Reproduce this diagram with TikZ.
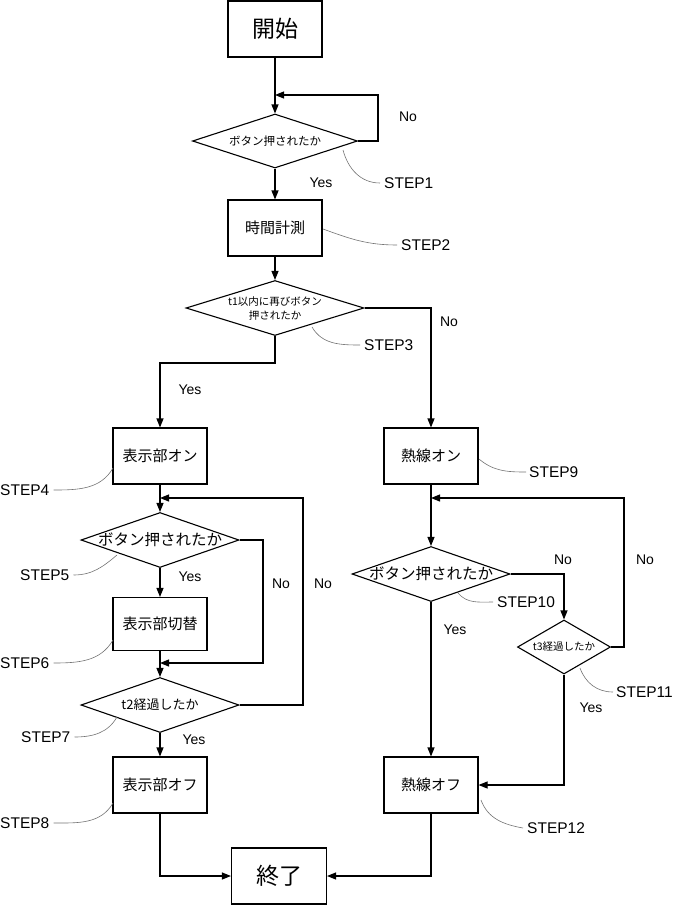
\documentclass[tikz,border=0pt]{standalone}
\usepackage{fontspec}
\setmainfont{Liberation Sans}
\newfontfamily\jp{Noto Sans CJK JP}
\usetikzlibrary{shapes.geometric,arrows.meta}
\begin{document}
\begin{tikzpicture}[x=1pt,y=-1pt,
 box/.style={draw,line width=1.1pt,minimum width=94pt,minimum height=56pt,inner sep=0pt,font=\jp\fontsize{15}{18}\selectfont},
 dia/.style={draw,diamond,line width=1.1pt,inner sep=0pt},
 dtext/.style={inner sep=0pt,align=center},
 arr/.style={line width=1.1pt,-{Triangle[length=9pt,width=7pt]}},
 lbl/.style={font=\fontsize{14}{16}\selectfont,inner sep=0pt},
 steplbl/.style={font=\fontsize{15.5}{18}\selectfont,inner sep=0pt,anchor=west},
 lead/.style={draw=black!55,line width=0.6pt}]
\useasboundingbox (0,0) rectangle (679,905);

% nodes
\node[box,font=\jp\fontsize{23}{26}\selectfont] (start) at (275,29) {開始};
\node[dia,minimum width=165pt,minimum height=54pt] (d1) at (275,141) {};
\node[dtext,font=\jp\fontsize{11.5}{13}\selectfont] (t1) at (d1) {ボタン押されたか};
\node[box] (b2) at (275,228) {時間計測};
\node[dia,minimum width=178pt,minimum height=55pt] (d3) at (275,308) {};
\node[dtext,font=\jp\fontsize{10.5}{14}\selectfont] (t3) at (d3) {t1以内に再びボタン\\押されたか};
\node[box] (b4) at (160,456) {表示部オン};
\node[dia,minimum width=158pt,minimum height=55pt] (d5) at (160,540) {};
\node[dtext,font=\jp\fontsize{15.5}{18}\selectfont] (t5) at (d5) {ボタン押されたか};
\node[box,minimum height=53pt] (b6) at (160,624) {表示部切替};
\node[dia,minimum width=158pt,minimum height=55pt] (d7) at (160,705) {};
\node[dtext,font=\jp\fontsize{13}{15}\selectfont] (t7) at (d7) {t2経過したか};
\node[box] (b8) at (160,785) {表示部オフ};
\node[box,minimum width=95pt,font=\jp\fontsize{23}{26}\selectfont] (end) at (279,876) {終了};
\node[box] (b9) at (431,456) {熱線オン};
\node[dia,minimum width=158pt,minimum height=55pt] (d10) at (431,574) {};
\node[dtext,font=\jp\fontsize{15.5}{18}\selectfont] (t10) at (d10) {ボタン押されたか};
\node[dia,minimum width=93pt,minimum height=54pt] (d11) at (564,647) {};
\node[dtext,font=\jp\fontsize{10.5}{12}\selectfont] (t11) at (d11) {t3経過したか};
\node[box] (b12) at (431,785) {熱線オフ};

% junction coordinates
\coordinate (j1) at (275,95);
\coordinate (r1) at (378,95);
\coordinate (y3) at (160,363);
\coordinate (j5) at (160,498);
\coordinate (j6) at (160,663);
\coordinate (r5) at (263,663);
\coordinate (r7) at (303,498);
\coordinate (j9) at (431,498);
\coordinate (r11) at (624,498);

% connectors
\draw[arr] (start.south) -- (d1.north);
\draw[arr] (d1.east) -| (r1) -- (j1);
\draw[arr] (d1.south) -- (b2.north);
\draw[arr] (b2.south) -- (d3.north);
\draw[arr] (d3.south) |- (y3) -- (b4.north);
\draw[arr] (d3.east) -| (b9.north);
\draw[arr] (b4.south) -- (d5.north);
\draw[arr] (d5.south) -- (b6.north);
\draw[arr] (d5.east) -| (r5) -- (j6);
\draw[arr] (b6.south) -- (d7.north);
\draw[arr] (d7.east) -| (r7) -- (j5);
\draw[arr] (d7.south) -- (b8.north);
\draw[arr] (b8.south) |- (end.west);
\draw[arr] (b12.south) |- (end.east);
\draw[arr] (b9.south) -- (d10.north);
\draw[arr] (d10.east) -| (d11.north);
\draw[arr] (d11.east) -| (r11) -- (j9);
\draw[arr] (d10.south) -- (b12.north);
\draw[arr] (d11.south) |- (b12.east);

% Yes / No labels
\node[lbl] (n1) at (408,117) {No};
\node[lbl] (y1) at (321,183) {Yes};
\node[lbl] (n3) at (449,322) {No};
\node[lbl] (y3l) at (190,390) {Yes};
\node[lbl] (n5) at (281,584) {No};
\node[lbl] (n7) at (323,584) {No};
\node[lbl] (y5) at (190,577) {Yes};
\node[lbl] (y7) at (194,740) {Yes};
\node[lbl] (n10) at (563,560) {No};
\node[lbl] (n11) at (645,560) {No};
\node[lbl] (y10) at (455,630) {Yes};
\node[lbl] (y11) at (591,708) {Yes};

% STEP labels
\node[steplbl] (s1) at (384,183) {STEP1};
\node[steplbl] (s2) at (401,245) {STEP2};
\node[steplbl] (s3) at (364,345) {STEP3};
\node[steplbl] (s4) at (0,490) {STEP4};
\node[steplbl] (s5) at (20,575) {STEP5};
\node[steplbl] (s6) at (0,663) {STEP6};
\node[steplbl] (s7) at (21,737) {STEP7};
\node[steplbl] (s8) at (0,823) {STEP8};
\node[steplbl] (s9) at (529,472) {STEP9};
\node[steplbl] (s10) at (497,602) {STEP10};
\node[steplbl] (s11) at (616,692) {STEP11};
\node[steplbl] (s12) at (527,828) {STEP12};

% leader curves
\coordinate (p1) at (343,150);
\coordinate (p2) at (323,229);
\coordinate (p3) at (312,327);
\coordinate (p4) at (113,468);
\coordinate (p5) at (117,555);
\coordinate (p6) at (113,640);
\coordinate (p7) at (117,717);
\coordinate (p8) at (113,803);
\coordinate (p9) at (479,459);
\coordinate (p10) at (458,593);
\coordinate (p11) at (580,668);
\coordinate (p12) at (481,800);
\draw[lead] (p1) to[out=-75,in=180] ([xshift=-4pt]s1.west);
\draw[lead] (p2) to[out=-20,in=180] ([xshift=-4pt]s2.west);
\draw[lead] (p3) to[out=-60,in=180] ([xshift=-4pt]s3.west);
\draw[lead] ([xshift=4pt]s4.east) to[out=0,in=-120] (p4);
\draw[lead] ([xshift=4pt]s5.east) to[out=0,in=-140] (p5);
\draw[lead] ([xshift=4pt]s6.east) to[out=0,in=-120] (p6);
\draw[lead] ([xshift=4pt]s7.east) to[out=0,in=-120] (p7);
\draw[lead] ([xshift=4pt]s8.east) to[out=0,in=-120] (p8);
\draw[lead] (p9) to[out=-40,in=180] ([xshift=-3pt]s9.west);
\draw[lead] (p10) to[out=-50,in=180] ([xshift=-4pt]s10.west);
\draw[lead] (p11) to[out=-70,in=180] ([xshift=-3pt]s11.west);
\draw[lead] (p12) to[out=-70,in=170] ([xshift=-4pt]s12.west);
\end{tikzpicture}
\end{document}
